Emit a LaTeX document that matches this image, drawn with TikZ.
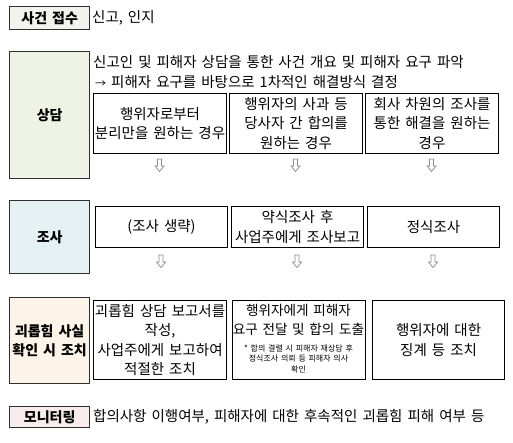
\documentclass[tikz,border=0pt]{standalone}
\usepackage{fontspec}
\setmainfont[WordSpace=1.55]{Noto Sans CJK KR}
\definecolor{cfJ}{HTML}{F3F3EE}
\definecolor{cfS}{HTML}{EFF3E5}
\definecolor{cfC}{HTML}{E6F1F4}
\definecolor{cfG}{HTML}{FCF4E8}
\definecolor{cfM}{HTML}{F8ECEC}
\definecolor{lblborder}{HTML}{303030}
\definecolor{arrowgray}{HTML}{8A8A8A}
\tikzset{
  lbl/.style={draw=lblborder, line width=1.3pt, inner sep=0pt, anchor=north west,
    minimum width=80pt, align=center, font=\bfseries\fontsize{14}{19.5}\selectfont},
  cbox/.style={draw=black, line width=1.1pt, inner sep=0pt, anchor=north west,
    align=center, font=\fontsize{14.5}{19.5}\selectfont},
  plain/.style={inner sep=0pt, anchor=west, font=\fontsize{14.5}{19.5}\selectfont},
  txt/.style={inner sep=0pt, align=center, font=\fontsize{13.6}{19.5}\selectfont},
  note/.style={inner sep=0pt, align=center, font=\fontsize{8}{10.5}\selectfont},
  hollowdown/.pic={\draw[arrowgray, line width=0.7pt, line join=miter, fill=white]
    (-2,-6) -- (2,-6) -- (2,1) -- (4.5,1) -- (0,6.5) -- (-4.5,1) -- (-2,1) -- cycle;}
}
\begin{document}
\begin{tikzpicture}[x=1pt,y=-1pt]
\useasboundingbox (0,0) rectangle (513,442);

% row: 사건 접수
\node[lbl, fill=cfJ, minimum height=23pt] (jeopsu) at (9,6) {사건 접수};
\node[plain] (jeopsutxt) at (92,18) {신고, 인지};

% row: 상담
\node[lbl, fill=cfS, minimum height=127pt] (sangdam) at (9,51) {상담};
\node[plain] (sd1) at (93,62) {신고인 및 피해자 상담을 통한 사건 개요 및 피해자 요구 파악};
\node[plain] (sd2) at (95,82) {{\fontsize{11}{11}\selectfont →} 피해자 요구를 바탕으로 1차적인 해결방식 결정};
\node[cbox, minimum width=133pt, minimum height=60pt] (sa) at (93,93) {행위자로부터\\분리만을 원하는 경우};
\node[cbox, minimum width=133pt, minimum height=60pt] (sb) at (229,93) {행위자의 사과 등\\당사자 간 합의를\\원하는 경우};
\node[cbox, minimum width=133pt, minimum height=60pt] (sc) at (365,93) {회사 차원의 조사를\\통한 해결을 원하는\\경우};
\pic at (159.5,165) {hollowdown};
\pic at (295.5,165) {hollowdown};
\pic at (431.5,165) {hollowdown};

% row: 조사
\node[lbl, fill=cfC, minimum height=73pt] (josa) at (9,200) {조사};
\node[cbox, minimum width=132pt, minimum height=41pt] (ja) at (95,206) {(조사 생략)};
\node[cbox, minimum width=132pt, minimum height=41pt] (jb) at (231,206) {약식조사 후\\사업주에게 조사보고};
\node[cbox, minimum width=132pt, minimum height=41pt] (jc) at (367,206) {정식조사};
\pic at (161,261) {hollowdown};
\pic at (297,261) {hollowdown};
\pic at (433,261) {hollowdown};

% row: 괴롭힘 사실 확인 시 조치
\node[lbl, fill=cfG, minimum height=86pt] (jochi) at (9,297) {괴롭힘 사실\\확인 시 조치};
\node[cbox, minimum width=133pt, minimum height=79pt] (ga) at (93,300) {괴롭힘 상담 보고서를\\작성,\\사업주에게 보고하여\\적절한 조치};
\node[cbox, minimum width=133pt, minimum height=79pt] (gb) at (232,300) {};
\node[txt] (gbmain) at (298.5,320) {행위자에게 피해자\\요구 전달 및 합의 도출};
\node[note] (gbnote) at (298.5,358.5) {* 합의 결렬 시 피해자 재상담 후\\정식조사 의뢰 등 피해자 의사\\확인};
\node[cbox, minimum width=132pt, minimum height=79pt] (gc) at (372,300) {행위자에 대한\\징계 등 조치};

% row: 모니터링
\node[lbl, fill=cfM, minimum height=21pt] (monitor) at (9,406) {모니터링};
\node[plain] (monitortxt) at (93,417) {합의사항 이행여부, 피해자에 대한 후속적인 괴롭힘 피해 여부 등};
\end{tikzpicture}
\end{document}
